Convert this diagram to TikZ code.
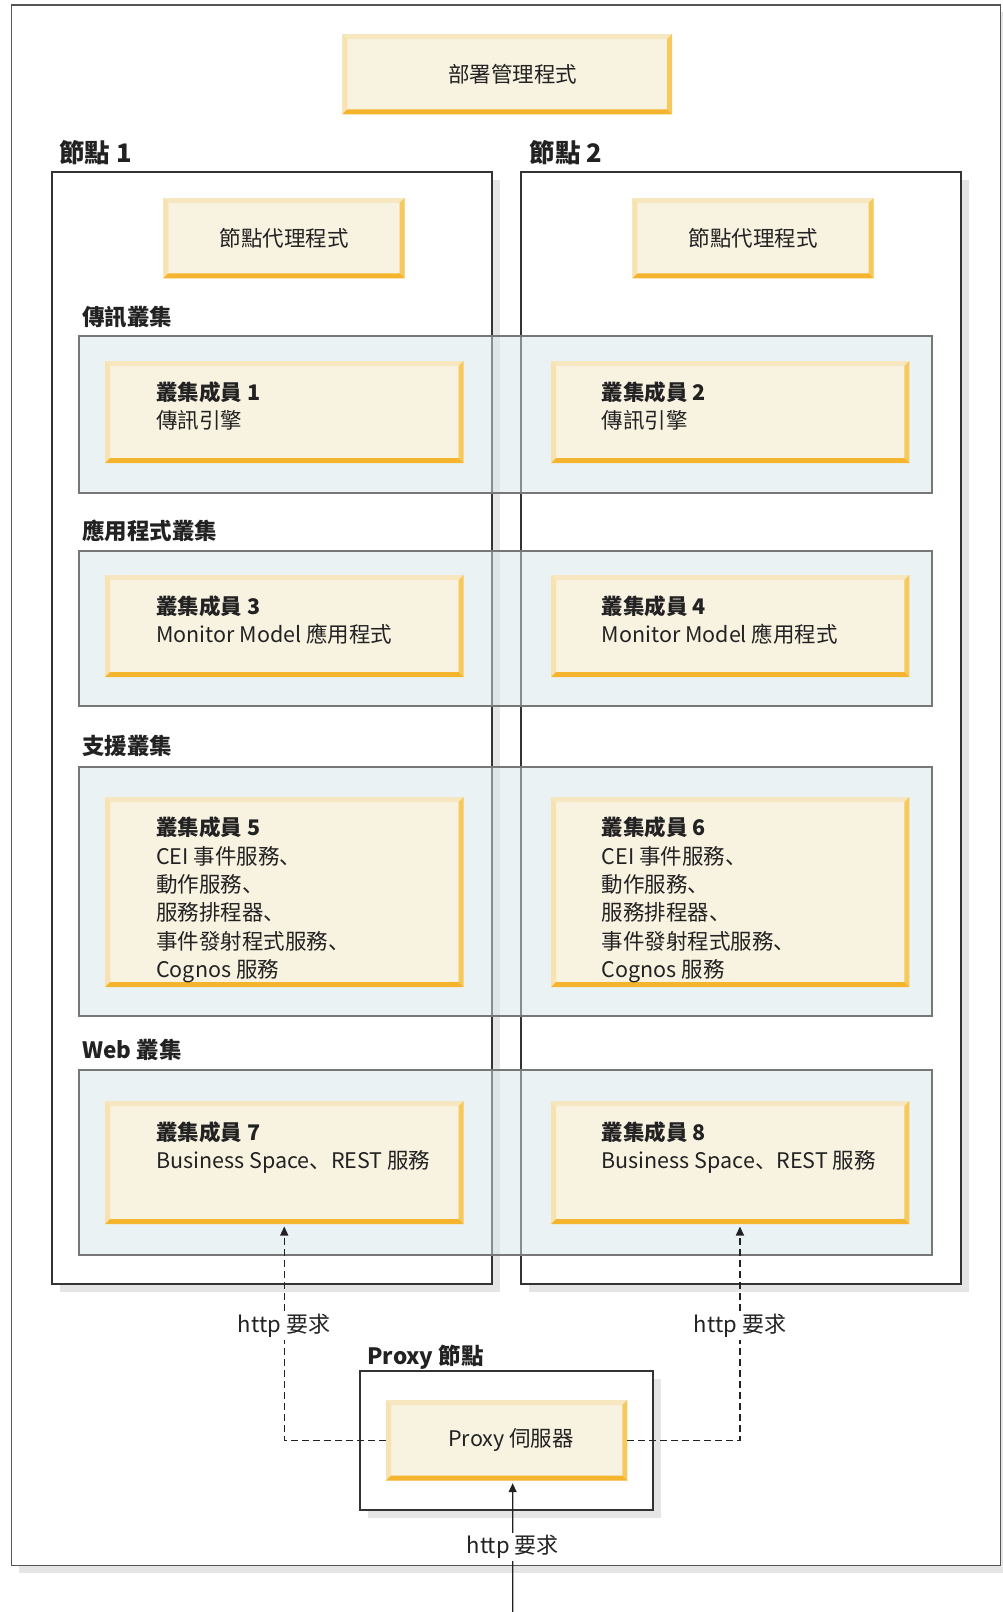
\documentclass[tikz,border=0pt]{standalone}
\usepackage{fontspec}
\setmainfont{Noto Sans CJK TC}
\newfontfamily\scfont{Noto Sans CJK SC}
\newcommand\dun{{\scfont 、}}
\usetikzlibrary{arrows.meta,shadows}
\definecolor{memfill}{HTML}{F8F2E1}
\definecolor{bevtop}{HTML}{F6E7C0}
\definecolor{bevleft}{HTML}{F7E2B0}
\definecolor{bevright}{HTML}{F5C95C}
\definecolor{bevbot}{HTML}{F4B42E}
\definecolor{clfill}{HTML}{D9E7EB}
\definecolor{clline}{HTML}{777777}
\definecolor{nodeline}{HTML}{333333}
\definecolor{framec}{HTML}{555555}
\definecolor{shadowc}{HTML}{E5E5E5}
\definecolor{txt}{HTML}{222222}
\newcommand\mybevel[1]{%
 \fill[bevtop] (#1.north west) -- (#1.north east) -- ([shift={(-5pt,-5pt)}]#1.north east) -- ([shift={(5pt,-5pt)}]#1.north west) -- cycle;
 \fill[bevleft] (#1.north west) -- ([shift={(5pt,-5pt)}]#1.north west) -- ([shift={(5pt,5pt)}]#1.south west) -- (#1.south west) -- cycle;
 \fill[bevright] (#1.north east) -- (#1.south east) -- ([shift={(-5pt,5pt)}]#1.south east) -- ([shift={(-5pt,-5pt)}]#1.north east) -- cycle;
 \fill[bevbot] (#1.south west) -- (#1.south east) -- ([shift={(-5pt,5pt)}]#1.south east) -- ([shift={(5pt,5pt)}]#1.south west) -- cycle;
}
\tikzset{
  box/.style={anchor=north west, inner sep=0pt, outer sep=0pt},
  frame/.style={box, draw=framec, line width=1.7pt, fill=white,
    drop shadow={shadow xshift=7pt, shadow yshift=-7pt, fill=shadowc, opacity=1}},
  nodebox/.style={box, draw=nodeline, line width=1.7pt, fill=white,
    drop shadow={shadow xshift=8pt, shadow yshift=-8pt, fill=shadowc, opacity=1}},
  cluster/.style={box, draw=clline, line width=1.7pt, fill=clfill, fill opacity=0.5, draw opacity=1},
  member/.style={box, fill=memfill, draw=none, text=txt, font=\fontsize{21.5pt}{26pt}\selectfont},
  mtitle/.style={anchor=base west, inner sep=0pt, text=txt, font=\bfseries\fontsize{21.5pt}{26pt}\selectfont},
  mtext/.style={anchor=base west, inner sep=0pt, text=txt, font=\fontsize{21.5pt}{26pt}\selectfont},
  seclabel/.style={anchor=base west, inner sep=0pt, text=txt, font=\bfseries\fontsize{22.5pt}{27pt}\selectfont},
  hdlabel/.style={anchor=base west, inner sep=0pt, text=txt, font=\bfseries\fontsize{25.5pt}{30pt}\selectfont},
  reqlabel/.style={fill=white, inner sep=2pt, text=txt, font=\fontsize{22pt}{26pt}\selectfont},
  dasharrow/.style={draw=txt, line width=1.3pt, dash pattern=on 7pt off 4pt, -{Triangle[length=9pt,width=8pt]}, shorten >=2.5pt},
  solidarrow/.style={draw=txt, line width=1.3pt, -{Triangle[length=9pt,width=8pt]}, shorten >=2.5pt},
}
\begin{document}
\begin{tikzpicture}[x=1pt,y=-1pt]
\useasboundingbox (0,0) rectangle (1003,1612);
% outer frame
\node[frame, minimum width=989pt, minimum height=1560.5pt] (outer) at (11.5,5) {};
% top box
\node[member, minimum width=329.7pt, minimum height=80.3pt] (dm) at (342.3,34) {\hspace*{11pt}部署管理程式};
\mybevel{dm}
% node boxes
\node[nodebox, minimum width=440pt, minimum height=1111.7pt] (n1) at (52.3,172.3) {};
\node[nodebox, minimum width=439.7pt, minimum height=1111.7pt] (n2) at (521.3,172.3) {};
\node[hdlabel] (n1l) at (59,162.3) {節點 1};
\node[hdlabel] (n2l) at (529.3,162.3) {節點 2};
% node agents
\node[member, minimum width=241.4pt, minimum height=80.3pt] (a1) at (163.3,198) {節點代理程式};
\mybevel{a1}
\node[member, minimum width=241.4pt, minimum height=80.3pt] (a2) at (632.3,198) {節點代理程式};
\mybevel{a2}
% clusters
\node[cluster, minimum width=852.7pt, minimum height=157pt] (c1) at (79.3,335.7) {};
\node[cluster, minimum width=852.7pt, minimum height=155pt] (c2) at (79.3,550.7) {};
\node[cluster, minimum width=852.7pt, minimum height=249.3pt] (c3) at (79.3,766.7) {};
\node[cluster, minimum width=852.7pt, minimum height=184.7pt] (c4) at (79.3,1070) {};
\node[seclabel] (c1l) at (82,325) {傳訊叢集};
\node[seclabel] (c2l) at (82,539.5) {應用程式叢集};
\node[seclabel] (c3l) at (82,754.5) {支援叢集};
\node[seclabel] (c4l) at (82,1058) {Web 叢集};
% members
\node[member, minimum width=358.5pt, minimum height=102pt] (m1) at (105,361) {};
\mybevel{m1}
\node[member, minimum width=358.3pt, minimum height=102pt] (m2) at (551,361) {};
\mybevel{m2}
\node[member, minimum width=358.5pt, minimum height=102pt] (m3) at (105,575) {};
\mybevel{m3}
\node[member, minimum width=358.3pt, minimum height=102pt] (m4) at (551,575) {};
\mybevel{m4}
\node[member, minimum width=358.5pt, minimum height=190pt] (m5) at (105,797) {};
\mybevel{m5}
\node[member, minimum width=358.3pt, minimum height=190pt] (m6) at (551,797) {};
\mybevel{m6}
\node[member, minimum width=358.5pt, minimum height=123pt] (m7) at (105,1101) {};
\mybevel{m7}
\node[member, minimum width=358.3pt, minimum height=123pt] (m8) at (551,1101) {};
\mybevel{m8}
% member texts
\node[mtitle] (m1t) at (156,400) {叢集成員 1};
\node[mtext] (m1a) at (156,428) {傳訊引擎};
\node[mtitle] (m2t) at (601.5,400) {叢集成員 2};
\node[mtext] (m2a) at (601.5,428) {傳訊引擎};
\node[mtitle] (m3t) at (156,614) {叢集成員 3};
\node[mtext] (m3a) at (156,642) {Monitor Model 應用程式};
\node[mtitle] (m4t) at (601.5,614) {叢集成員 4};
\node[mtext] (m4a) at (601.5,642) {Monitor Model 應用程式};
\foreach \xx/\nm/\num in {156/m5/5, 601.5/m6/6}{
  \node[mtitle] (\nm t) at (\xx,835.5) {叢集成員 \num};
  \node[mtext] (\nm a) at (\xx,864) {CEI 事件服務\dun};
  \node[mtext] (\nm b) at (\xx,892.4) {動作服務\dun};
  \node[mtext] (\nm c) at (\xx,920.8) {服務排程器\dun};
  \node[mtext] (\nm d) at (\xx,949.2) {事件發射程式服務\dun};
  \node[mtext] (\nm e) at (\xx,977.6) {Cognos 服務};
}
\node[mtitle] (m7t) at (156,1140) {叢集成員 7};
\node[mtext] (m7a) at (156,1168) {Business Space\dun REST 服務};
\node[mtitle] (m8t) at (601.5,1140) {叢集成員 8};
\node[mtext] (m8a) at (601.5,1168) {Business Space\dun REST 服務};
% proxy node
\node[nodebox, minimum width=293.3pt, minimum height=138.7pt] (pn) at (360,1371) {};
\node[seclabel] (pnl) at (367.3,1364) {Proxy 節點};
\node[member, minimum width=241.3pt, minimum height=80.7pt] (px) at (386,1400) {\hspace*{9pt}Proxy 伺服器};
\mybevel{px}
% connectors
\coordinate (inb) at (512.7,1612);
\draw[dasharrow] (px.west) -| (m7.south);
\draw[dasharrow] (px.east) -| ([xshift=9.8pt]m8.south);
\draw[solidarrow] (inb) -- ([xshift=6pt]px.south);
\node[reqlabel] (r1) at (284,1326) {http 要求};
\node[reqlabel] (r2) at (740,1326) {http 要求};
\node[reqlabel] (r3) at (512.7,1547) {http 要求};
\end{tikzpicture}
\end{document}
